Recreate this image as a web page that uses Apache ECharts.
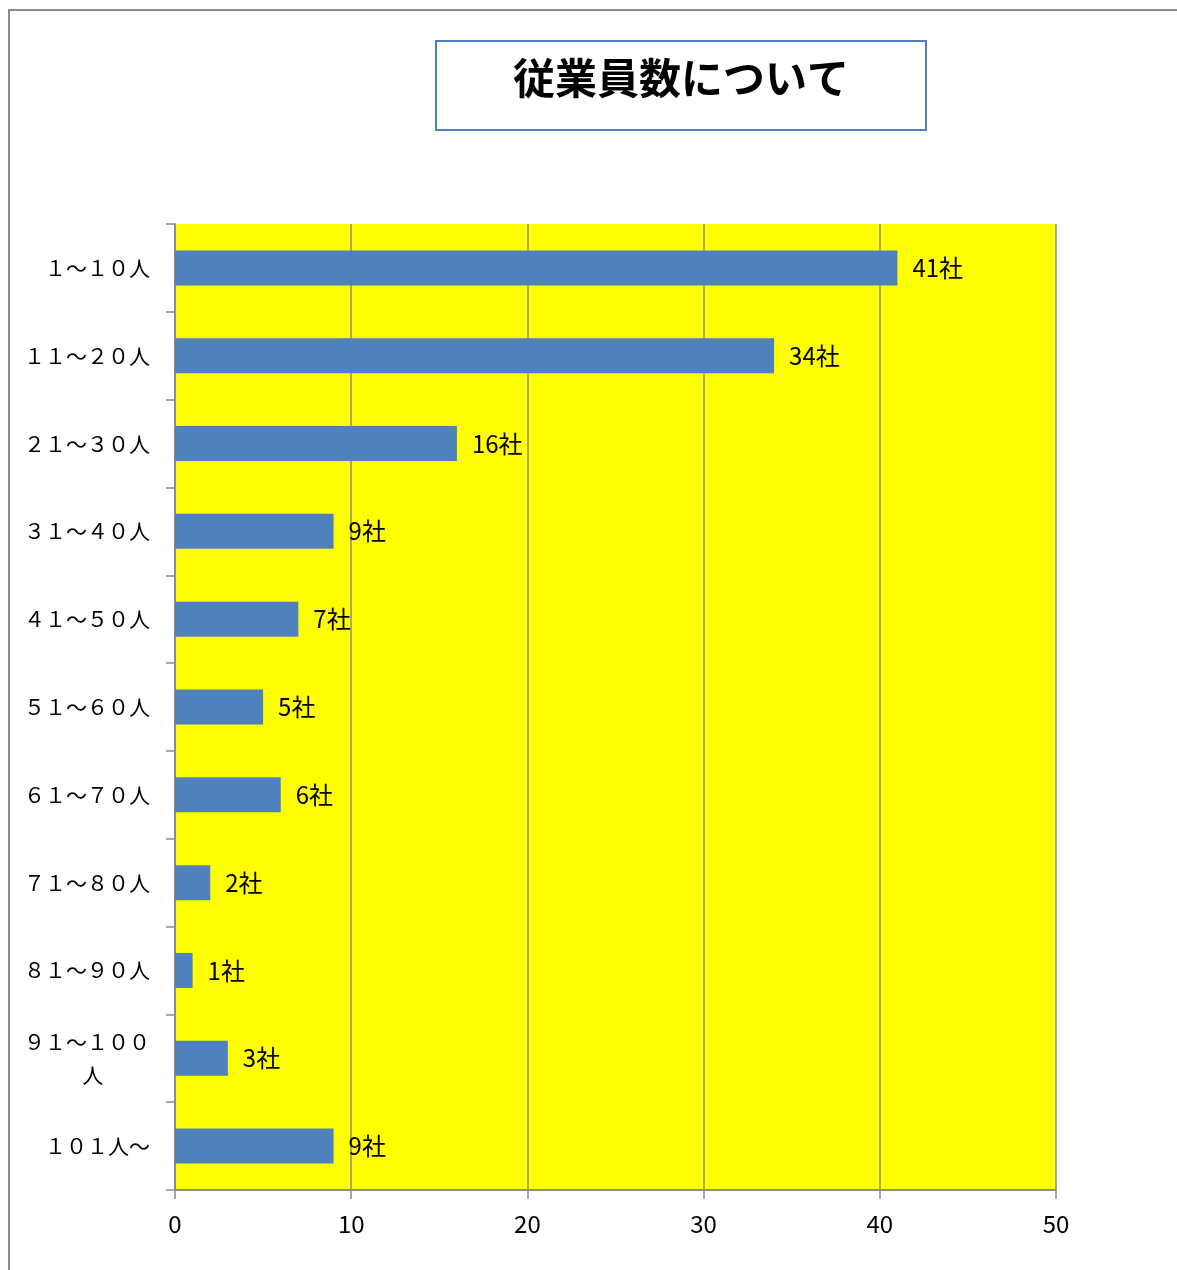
<!DOCTYPE html>
<html>
<head>
<meta charset="utf-8">
<script src="https://cdn.jsdelivr.net/npm/echarts@6/dist/echarts.min.js"></script>
<style>
  html, body { margin: 0; padding: 0; background: #fff; }
  #chart { width: 1177px; height: 1270px; }
</style>
</head>
<body>
<div id="chart"></div>
<script>
// 従業員規模別の社数
const categories = ['１～１０人', '１１～２０人', '２１～３０人', '３１～４０人', '４１～５０人',
  '５１～６０人', '６１～７０人', '７１～８０人', '８１～９０人', '９１～１００\n人　　 ', '１０１人～'];
const companyCounts = [41, 34, 16, 9, 7, 5, 6, 2, 1, 3, 9];
const xTicks = { min: 0, max: 50, interval: 10 };

const FONT = '"Noto Sans CJK JP", "Noto Sans", sans-serif';
const GRAY = '#8c8c8c';

const chart = echarts.init(document.getElementById('chart'));
chart.setOption({
  backgroundColor: '#ffffff',
  animation: false,
  textStyle: { fontFamily: FONT },
  graphic: [{
    type: 'rect',
    shape: { x: 9, y: 10, width: 1400, height: 1400 },
    style: { fill: 'none', stroke: GRAY, lineWidth: 2 },
    silent: true,
    z: -1
  }],
  title: {
    text: '従業員数について',
    left: 436,
    top: 41,
    padding: [16, 77, 31, 77],
    borderColor: '#4F81BD',
    borderWidth: 2,
    backgroundColor: '#ffffff',
    textStyle: { fontSize: 42, fontWeight: 'bold', color: '#000', fontFamily: FONT }
  },
  grid: {
    left: 175, top: 224, right: 121, bottom: 80,
    show: true, backgroundColor: '#FFFF00', borderWidth: 0
  },
  xAxis: {
    type: 'value',
    min: xTicks.min, max: xTicks.max, interval: xTicks.interval,
    axisLine: { show: true, lineStyle: { color: GRAY, width: 2 } },
    axisTick: { show: true, length: 9, lineStyle: { color: GRAY, width: 1.5 } },
    splitLine: { show: true, lineStyle: { color: GRAY, width: 1.5 } },
    axisLabel: { color: '#000', fontSize: 24, margin: 22 }
  },
  yAxis: {
    type: 'category',
    inverse: true,
    data: categories,
    axisLine: { show: true, lineStyle: { color: GRAY, width: 2 } },
    axisTick: { show: true, length: 9, lineStyle: { color: GRAY, width: 1.5 } },
    axisLabel: { color: '#000', fontSize: 21, margin: 25, lineHeight: 33, align: 'right' }
  },
  series: [{
    type: 'bar',
    data: companyCounts,
    barWidth: 35,
    itemStyle: { color: '#4F81BD' },
    label: {
      show: true,
      position: 'right',
      distance: 15,
      formatter: '{c}社',
      color: '#000',
      fontSize: 24
    }
  }]
});
</script>
</body>
</html>
